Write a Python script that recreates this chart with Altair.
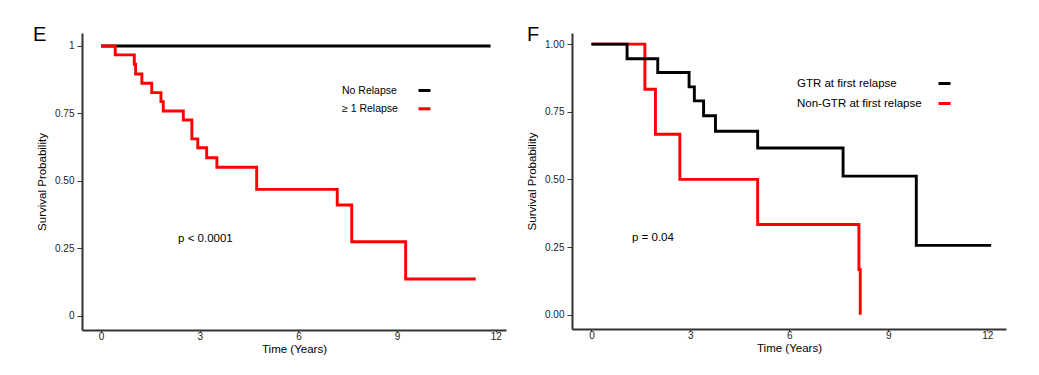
import altair as alt
import pandas as pd

FONT = "Liberation Sans"

# ---------------- Panel E data ----------------
e_groups = ["No Relapse", "≥ 1 Relapse"]
e_colors = ["#000000", "#ff0000"]
e_none_t = [0.0, 11.84]
e_none_s = [1.0, 1.0]
e_rel_t = [0.0, 0.43, 1.01, 1.05, 1.24, 1.54, 1.82, 1.89, 2.50, 2.76, 2.94,
           3.21, 3.52, 4.73, 7.18, 7.62, 9.26, 11.39]
e_rel_s = [1.0, 0.967, 0.932, 0.896, 0.862, 0.827, 0.794, 0.759, 0.726, 0.656,
           0.623, 0.586, 0.551, 0.469, 0.411, 0.275, 0.137, 0.137]
e_pval = "p < 0.0001"

# ---------------- Panel F data ----------------
f_groups = ["GTR at first relapse", "Non-GTR at first relapse"]
f_colors = ["#000000", "#ff0000"]
f_gtr_t = [0.0, 1.08, 2.01, 2.96, 3.12, 3.40, 3.76, 5.04, 7.63, 9.85, 12.12]
f_gtr_s = [1.0, 0.946, 0.895, 0.842, 0.790, 0.735, 0.678, 0.616, 0.512, 0.256, 0.256]
f_non_t = [0.0, 1.62, 1.94, 2.68, 5.04, 8.11, 8.15]
f_non_s = [1.0, 0.833, 0.667, 0.5, 0.333, 0.167, 0.0]
f_pval = "p = 0.04"

x_ticks = [0, 3, 6, 9, 12]
y_ticks = [0, 0.25, 0.5, 0.75, 1]


def frame(t, s, g):
    return pd.DataFrame({"time": t, "surv": s, "group": [g] * len(t)})


def panel(dfs, groups, colors, xdom, ydom, width, height, legend, ylab_expr,
          pval, px, py, letter, letter_dx):
    xs = alt.Scale(domain=xdom, nice=False, zero=False)
    ys = alt.Scale(domain=ydom, nice=False, zero=False)
    cs = alt.Scale(domain=groups, range=colors)
    xax = alt.Axis(values=x_ticks, format="d", title="Time (Years)",
                   tickSize=2, labelPadding=-1, titlePadding=2)
    yax = alt.Axis(values=y_ticks, labelExpr=ylab_expr, title="Survival Probability",
                   labelPadding=3, titlePadding=7)
    layers = []
    for i, df in enumerate(dfs):
        layers.append(
            alt.Chart(df).mark_line(interpolate="step-after", strokeWidth=2.9).encode(
                x=alt.X("time:Q", scale=xs, axis=xax),
                y=alt.Y("surv:Q", scale=ys, axis=yax),
                color=alt.Color("group:N", scale=cs, legend=legend),
            )
        )
    ptxt = alt.Chart(pd.DataFrame({"label": [pval]})).mark_text(
        align="left", baseline="middle", fontSize=11.5, font=FONT, color="black"
    ).encode(x=alt.datum(px), y=alt.datum(py), text="label:N")
    let = alt.Chart(pd.DataFrame({"letter": [letter]})).mark_text(
        align="left", baseline="alphabetic", fontSize=20, font=FONT, color="black"
    ).encode(x=alt.value(letter_dx), y=alt.value(8), text="letter:N")
    return alt.layer(*layers, ptxt, let).properties(width=width, height=height)


def make_legend(lx, ly, loff, fs, rp):
    return alt.Legend(orient="none", legendX=lx, legendY=ly, title=None,
                      symbolType="stroke", symbolSize=144, symbolStrokeWidth=3,
                      labelFontSize=fs, labelFont=FONT, labelColor="black",
                      labelAlign="left", labelOffset={"expr": str(loff)},
                      rowPadding=rp, padding=0)


left = panel(
    [frame(e_none_t, e_none_s, e_groups[0]), frame(e_rel_t, e_rel_s, e_groups[1])],
    e_groups, e_colors, [-0.58, 12.31], [-0.052, 1.048], 424, 297,
    make_legend(335, 50, -90, 10.5, 4.3),
    "datum.value == 1 ? '1' : datum.value == 0 ? '0' : format(datum.value, '.2f')",
    e_pval, 2.34, 0.285, "E", -49,
)

right = panel(
    [frame(f_non_t, f_non_s, f_groups[1]), frame(f_gtr_t, f_gtr_s, f_groups[0])],
    f_groups, f_colors, [-0.59, 12.57], [-0.053, 1.041], 434, 296,
    make_legend(365, 43, -155, 11.5, 6),
    "format(datum.value, '.2f')",
    f_pval, 1.23, 0.284, "F", -45,
)

chart = alt.hconcat(left, right, spacing=20).resolve_scale(
    color="independent"
).resolve_legend(color="independent").properties(
    padding={"left": 25, "top": 17, "right": 5, "bottom": 5}
).configure_view(stroke=None).configure_axis(
    grid=False, domainColor="#333333", domainWidth=2, tickColor="#333333",
    tickWidth=1, labelColor="#222222", labelFont=FONT, labelFontSize=10,
    titleFont=FONT, titleFontSize=11.5, titleFontWeight="normal", titleColor="black",
)

chart.save("out.html", embed_options={"renderer": "svg", "actions": False})
